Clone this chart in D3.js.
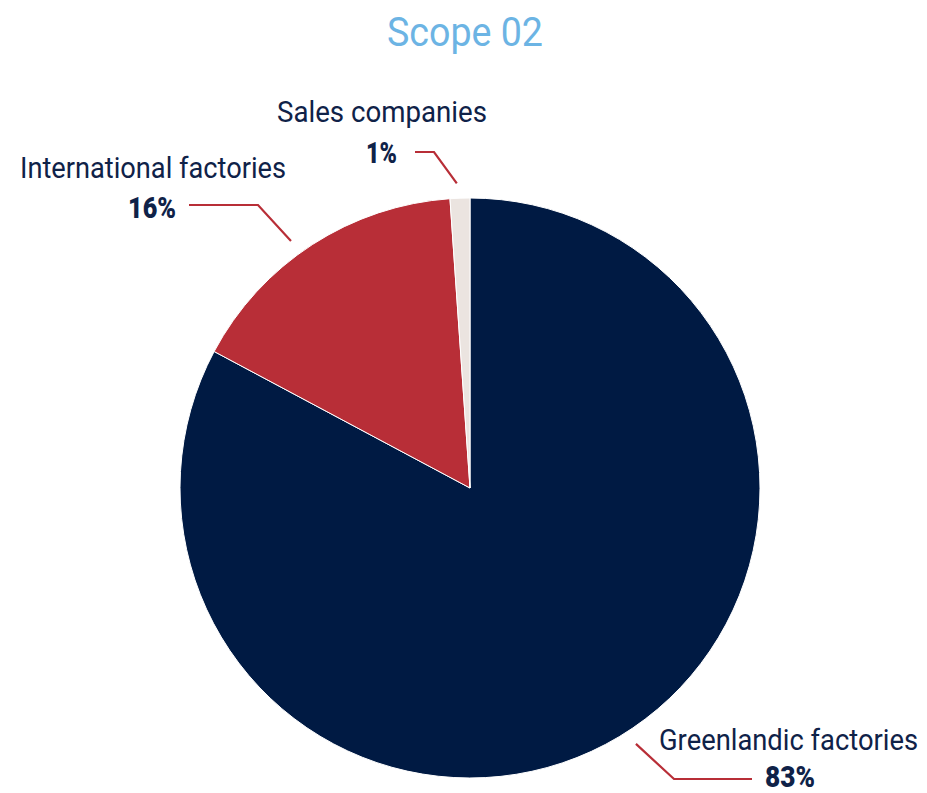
<!DOCTYPE html>
<html>
<head>
<meta charset="utf-8">
<script src="https://cdn.jsdelivr.net/npm/d3@7"></script>
<style>
  html, body { margin: 0; padding: 0; background: #ffffff; }
  svg { display: block; }
  text { font-family: Roboto, "Noto Sans", sans-serif; }
</style>
</head>
<body>
<svg id="chart" width="927" height="793"></svg>
<script>
// ---- data ----
const title = "Scope 02";
const categories = ["Greenlandic factories", "International factories", "Sales companies"];
const values = [82.8, 16.1, 1.1];
const percentLabels = ["83%", "16%", "1%"];
const colors = ["#001a43", "#b82e37", "#ebe4e0"];

// ---- layout ----
const cx = 470, cy = 488, R = 290;
const svg = d3.select("#chart");
const navyText = "#0f2248";

svg.append("text")
  .attr("x", 465).attr("y", 46)
  .attr("text-anchor", "middle")
  .attr("fill", "#6cb4e4")
  .attr("font-size", 40)
  .attr("textLength", 156).attr("lengthAdjust", "spacingAndGlyphs")
  .text(title);

const pie = d3.pie().sort(null).value(d => d)(values);
const arc = d3.arc().innerRadius(0).outerRadius(R);

const g = svg.append("g").attr("transform", `translate(${cx},${cy})`);
g.selectAll("path.slice")
  .data(pie)
  .join("path")
  .attr("class", "slice")
  .attr("d", arc)
  .attr("fill", (d, i) => colors[i])
  .attr("stroke", "#ffffff")
  .attr("stroke-width", 1);

// label layout: elbow point of connector, end of horizontal, name & pct text positions
const labelLayout = [
  { elbow: [674, 779], end: [752, 779], shift: -2.0,
    name: { x: 918, y: 750, anchor: "end", len: 259 },
    pct:  { x: 765, y: 787, anchor: "start", len: 50 } },
  { elbow: [258, 205], end: [189, 205], shift: -3.0,
    name: { x: 20, y: 178, anchor: "start", len: 266 },
    pct:  { x: 176, y: 218, anchor: "end", len: 48 } },
  { elbow: [434, 152], end: [415, 152], shift: -0.5,
    name: { x: 277, y: 122, anchor: "start", len: 210 },
    pct:  { x: 397, y: 163, anchor: "end", len: 31 } }
];

const rLine = 305;
pie.forEach((d, i) => {
  const L = labelLayout[i];
  const a = (d.startAngle + d.endAngle) / 2 + L.shift * Math.PI / 180;
  const p0 = [cx + rLine * Math.sin(a), cy - rLine * Math.cos(a)];
  svg.append("polyline")
    .attr("points", [p0, L.elbow, L.end].map(p => p.join(",")).join(" "))
    .attr("fill", "none")
    .attr("stroke", "#b82e37")
    .attr("stroke-width", 2.2);

  svg.append("text")
    .attr("x", L.name.x).attr("y", L.name.y)
    .attr("text-anchor", L.name.anchor)
    .attr("fill", navyText)
    .attr("font-size", 30)
    .attr("textLength", L.name.len).attr("lengthAdjust", "spacingAndGlyphs")
    .text(categories[i]);

  svg.append("text")
    .attr("x", L.pct.x).attr("y", L.pct.y)
    .attr("text-anchor", L.pct.anchor)
    .attr("fill", navyText)
    .attr("font-size", 29)
    .attr("font-weight", 900)
    .attr("textLength", L.pct.len).attr("lengthAdjust", "spacingAndGlyphs")
    .text(percentLabels[i]);
});
</script>
</body>
</html>
